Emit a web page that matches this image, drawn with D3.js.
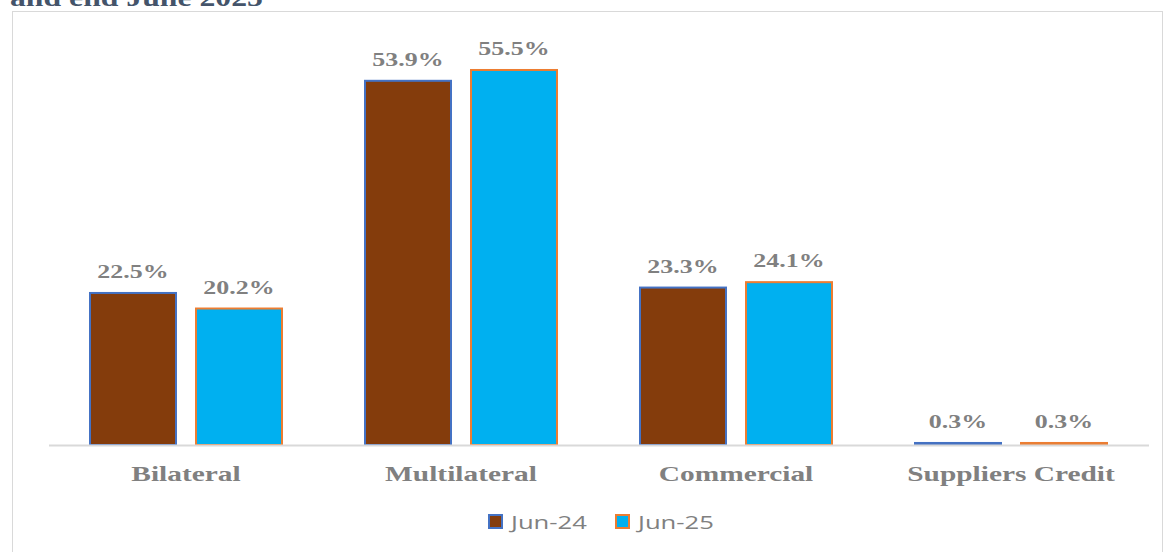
<!DOCTYPE html>
<html><head><meta charset="utf-8">
<script src="https://cdn.jsdelivr.net/npm/d3@7"></script>
<style>body{margin:0;background:#fff;overflow:hidden}</style>
</head><body>
<svg id="c" width="1170" height="552"></svg>
<script>
const categories = ["Bilateral", "Multilateral", "Commercial", "Suppliers Credit"];
const seriesNames = ["Jun-24", "Jun-25"];
const jun24 = [22.5, 53.9, 23.3, 0.3];
const jun25 = [20.2, 55.5, 24.1, 0.3];
const fills = ["#843C0C", "#00B0F0"];
const strokes = ["#4472C4", "#ED7D31"];

const svg = d3.select("#c");
// cut-off title
svg.append("text").attr("transform", "translate(10,6) scale(1.22,1)")
  .attr("font-family", "Liberation Serif, serif").attr("font-weight", "bold")
  .attr("font-size", 26).attr("fill", "#44546A").text("and end June 2025");
// chart frame
svg.append("rect").attr("x", 12.5).attr("y", 11.5).attr("width", 1150).attr("height", 560)
  .attr("fill", "#fff").attr("stroke", "#d9d9d9");

const x0 = d3.scaleBand().domain(categories).range([48.5, 1148.5]).paddingInner(0).paddingOuter(0);
const x1 = d3.scaleBand().domain(seriesNames).range([41.5, 233.5]).paddingInner(20 / 106);
const y = d3.scaleLinear().domain([0, 60]).range([445, 445 - 6.757 * 60]);

const data = categories.map((c, i) => ({cat: c, vals: [jun24[i], jun25[i]]}));
const g = svg.append("g");
const groups = g.selectAll("g.cat").data(data).enter().append("g")
  .attr("transform", d => `translate(${x0(d.cat)},0)`);
groups.selectAll("rect").data(d => d.vals.map((v, j) => ({v, j}))).enter().append("rect")
  .attr("x", d => x1(seriesNames[d.j]))
  .attr("y", d => y(d.v))
  .attr("width", x1.bandwidth())
  .attr("height", d => y(0) - y(d.v))
  .attr("fill", d => fills[d.j])
  .attr("stroke", d => strokes[d.j]).attr("stroke-width", 2);
groups.selectAll("text.lbl").data(d => d.vals.map((v, j) => ({v, j}))).enter().append("text")
  .attr("class", "lbl")
  .attr("transform", d => `translate(${x1(seriesNames[d.j]) + x1.bandwidth() / 2},${y(d.v) - 15}) scale(1.33,1)`)
  .attr("text-anchor", "middle")
  .attr("font-family", "Liberation Serif, serif").attr("font-weight", "bold")
  .attr("font-size", 19.5).attr("fill", "#808080")
  .text(d => d.v.toFixed(1) + "%");

// axis
const ax = svg.append("g").attr("transform", "translate(0,445)")
  .call(d3.axisBottom(x0).tickSize(0).tickPadding(21));
ax.select(".domain").attr("stroke", "#d9d9d9").attr("stroke-width", 2);
ax.selectAll(".tick text").each(function () {
  const t = d3.select(this);
  const yy = +t.attr("y");
  t.attr("y", null).attr("dy", null)
    .attr("transform", `translate(0,${yy + 15}) scale(1.4,1)`);
}).attr("font-family", "Liberation Serif, serif").attr("font-weight", "bold")
  .attr("font-size", 21).attr("fill", "#808080");

// legend
const leg = svg.append("g");
const lx = [489, 616];
seriesNames.forEach((s, i) => {
  leg.append("rect").attr("x", lx[i]).attr("y", 515).attr("width", 13).attr("height", 13)
    .attr("fill", fills[i]).attr("stroke", strokes[i]).attr("stroke-width", 2);
  leg.append("text").attr("transform", `translate(${lx[i] + 22},529) scale(1.35,1)`)
    .attr("font-family", "Open Sans, sans-serif").attr("font-size", 19)
    .attr("fill", "#808080").text(s);
});
</script>
</body></html>
